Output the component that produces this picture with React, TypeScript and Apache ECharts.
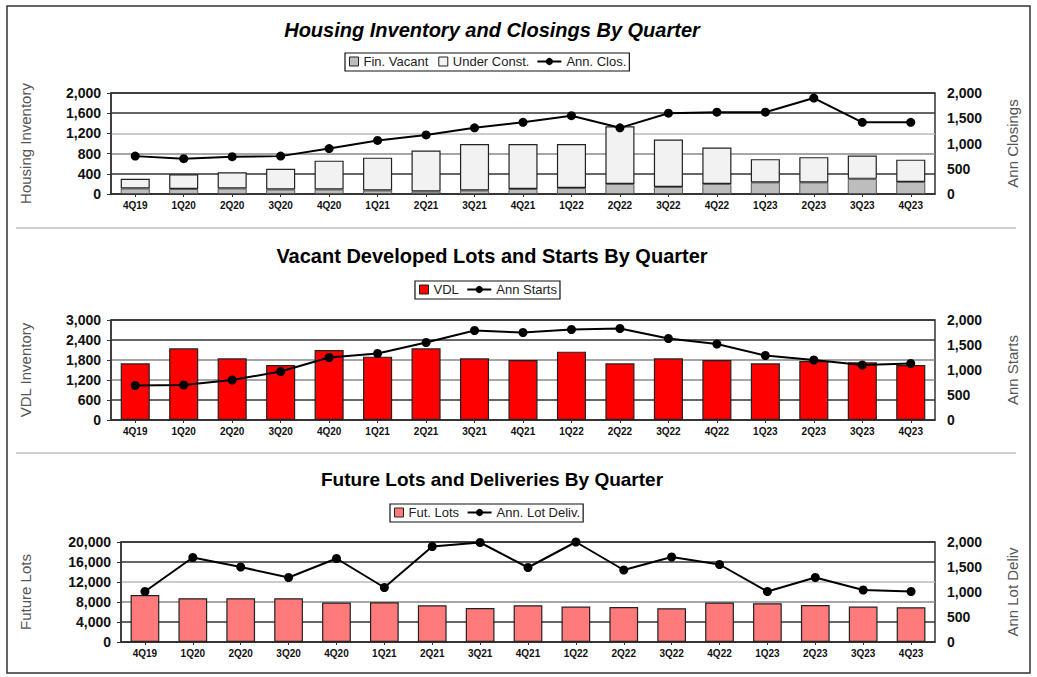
import React, { useEffect, useRef } from "react";
import * as echarts from "echarts";

const quarters = ["4Q19", "1Q20", "2Q20", "3Q20", "4Q20", "1Q21", "2Q21", "3Q21", "4Q21", "1Q22", "2Q22", "3Q22", "4Q22", "1Q23", "2Q23", "3Q23", "4Q23"];

const finVacant = [110, 100, 110, 90, 90, 70, 50, 70, 100, 120, 200, 140, 200, 230, 230, 300, 240];
const underConst = [190, 290, 320, 410, 570, 650, 810, 920, 890, 870, 1140, 940, 720, 460, 500, 460, 440];
const annClosings = [750, 700, 740, 750, 900, 1060, 1170, 1310, 1420, 1550, 1310, 1600, 1620, 1620, 1900, 1420, 1420];

const vdl = [1700, 2150, 1850, 1650, 2100, 1900, 2150, 1850, 1800, 2050, 1700, 1850, 1800, 1700, 1770, 1730, 1650];
const annStarts = [690, 700, 800, 970, 1250, 1330, 1550, 1790, 1750, 1810, 1830, 1630, 1520, 1290, 1200, 1100, 1130];

const futLots = [9400, 8750, 8750, 8750, 7900, 7950, 7350, 6800, 7350, 7100, 7000, 6750, 7900, 7750, 7400, 7100, 6950];
const annLotDeliv = [1010, 1690, 1500, 1290, 1670, 1090, 1910, 1990, 1490, 2000, 1440, 1700, 1550, 1010, 1290, 1040, 1010];

const titles = ["Housing Inventory and Closings By Quarter", "Vacant Developed Lots and Starts By Quarter", "Future Lots and Deliveries By Quarter"];

const FONT = '"Liberation Sans", Arial, sans-serif';
const LEG_FONT_SIZE = 13;

function textWidth(t: string, size: number, weight = "normal") {
  const ctx = document.createElement("canvas").getContext("2d")!;
  ctx.font = `${weight} ${size}px "Liberation Sans", Arial, sans-serif`;
  return ctx.measureText(t).width;
}

export default function App() {
  const ref = useRef<HTMLDivElement>(null);
  useEffect(() => {
    const chart = echarts.init(ref.current!, undefined, { renderer: "svg" });

    const grids = [
      { left: 111, right: 102, top: 93, height: 101 },
      { left: 111, right: 102, top: 320, height: 100 },
      { left: 121, right: 102, top: 542, height: 100 },
    ];

    const fmt = (v: number) => v.toLocaleString("en-US");

    const leftAxes = [
      { max: 2000, interval: 400, name: "Housing Inventory", colors: ["#333", "#333", "#888", "#bbb", "#333", "#333"] },
      { max: 3000, interval: 600, name: "VDL Inventory", colors: ["#333", "#333", "#888", "#888", "#333", "#333"] },
      { max: 20000, interval: 4000, name: "Future Lots", colors: ["#333", "#333", "#888", "#bbb", "#333", "#333"] },
    ];
    const rightNames = ["Ann Closings", "Ann Starts", "Ann Lot Deliv"];

    const yAxis: any[] = [];
    leftAxes.forEach((a, i) => {
      yAxis.push({
        type: "value",
        gridIndex: i,
        min: 0,
        max: a.max,
        interval: a.interval,
        position: "left",
        name: a.name,
        nameLocation: "middle",
        nameRotate: 90,
        nameGap: i === 2 ? 88 : 78,
        nameTextStyle: { fontFamily: FONT, fontSize: 15, color: "#555" },
        axisLine: { show: true, lineStyle: { color: "#333", width: 1.5 } },
        axisTick: { show: true, length: 4, lineStyle: { color: "#333" } },
        axisLabel: { formatter: fmt, fontFamily: FONT, fontWeight: "bold", fontSize: 14, color: "#111", margin: 10 },
        splitLine: { show: true, lineStyle: { color: a.colors, width: 1.5 } },
      });
      yAxis.push({
        type: "value",
        gridIndex: i,
        min: 0,
        max: 2000,
        interval: 500,
        position: "right",
        name: rightNames[i],
        nameLocation: "middle",
        nameRotate: 90,
        nameGap: 70,
        nameTextStyle: { fontFamily: FONT, fontSize: 15, color: "#555" },
        axisLine: { show: false },
        axisTick: { show: false },
        axisLabel: { formatter: fmt, fontFamily: FONT, fontWeight: "bold", fontSize: 14, color: "#111", margin: 12 },
        splitLine: { show: false },
      });
    });

    const xAxis = [0, 1, 2].map((i) => ({
      type: "category",
      gridIndex: i,
      data: quarters,
      axisLine: { show: true, lineStyle: { color: "#333", width: 1.5 } },
      axisTick: { show: true, alignWithLabel: true, length: 3, lineStyle: { color: "#333" } },
      axisLabel: { fontFamily: FONT, fontWeight: "bold", fontSize: 10, color: "#111", margin: 6, interval: 0 },
    }));

    const lineSeries = (name: string, data: number[], gi: number) => ({
      name,
      type: "line",
      xAxisIndex: gi,
      yAxisIndex: gi * 2 + 1,
      data,
      symbol: "circle",
      symbolSize: 9,
      itemStyle: { color: "#000" },
      lineStyle: { color: "#000", width: 2 },
      z: 5,
    });
    const barBase = { type: "bar", barCategoryGap: "40%" };

    const series: any[] = [
      { ...barBase, name: "Fin. Vacant", xAxisIndex: 0, yAxisIndex: 0, stack: "inv", data: finVacant, itemStyle: { color: "#bdbdbd", borderColor: "#555", borderWidth: 1 } },
      { ...barBase, name: "Under Const.", xAxisIndex: 0, yAxisIndex: 0, stack: "inv", data: underConst, itemStyle: { color: "#f2f2f2", borderColor: "#222", borderWidth: 1.2 } },
      lineSeries("Ann. Clos.", annClosings, 0),
      { ...barBase, name: "VDL", xAxisIndex: 1, yAxisIndex: 2, data: vdl, itemStyle: { color: "#ff0000", borderColor: "#222", borderWidth: 1.2 } },
      lineSeries("Ann Starts", annStarts, 1),
      { ...barBase, name: "Fut. Lots", xAxisIndex: 2, yAxisIndex: 4, data: futLots, itemStyle: { color: "#ff7b7b", borderColor: "#222", borderWidth: 1.2 } },
      lineSeries("Ann. Lot Deliv.", annLotDeliv, 2),
    ];

    const legendDefs = [
      { bars: ["Fin. Vacant", "Under Const."], line: "Ann. Clos.", cy: 62 },
      { bars: ["VDL"], line: "Ann Starts", cy: 290 },
      { bars: ["Fut. Lots"], line: "Ann. Lot Deliv.", cy: 513 },
    ];
    const centerX = 487;
    const legend: any[] = [];
    const graphic: any[] = [
      { type: "rect", shape: { x: 7, y: 6, width: 1023, height: 667 }, style: { fill: "none", stroke: "#333", lineWidth: 1.5 }, silent: true },
      { type: "line", shape: { x1: 16, y1: 228, x2: 1016, y2: 228 }, style: { stroke: "#d0d0d0", lineWidth: 2 }, silent: true },
      { type: "line", shape: { x1: 16, y1: 453, x2: 1016, y2: 453 }, style: { stroke: "#d0d0d0", lineWidth: 2 }, silent: true },
    ];
    const barIconW = 9;
    const lineIconW = 24;
    const itemGap = 10;
    legendDefs.forEach((d) => {
      const wA = d.bars.reduce((s, b) => s + barIconW + 5 + textWidth(b, LEG_FONT_SIZE), 0) + itemGap * (d.bars.length - 1);
      const wB = lineIconW + 5 + textWidth(d.line, LEG_FONT_SIZE);
      const gap = 8;
      const pad = 4;
      const boxW = wA + gap + wB + pad * 2;
      const x0 = Math.round(centerX - boxW / 2);
      graphic.push({ type: "rect", shape: { x: x0, y: d.cy - 9, width: boxW, height: 18 }, style: { fill: "#fff", stroke: "#111", lineWidth: 1.2 }, silent: true, z: -1 });
      const common = {
        orient: "horizontal",
        padding: 0,
        itemGap,
        selectedMode: false,
        textStyle: { fontFamily: FONT, fontSize: LEG_FONT_SIZE, color: "#222" },
        top: d.cy - 7,
      };
      legend.push({ ...common, left: x0 + pad, data: d.bars.map((b) => ({ name: b, icon: "rect" })), itemWidth: barIconW, itemHeight: 9, itemStyle: { borderColor: "#222", borderWidth: 1 } });
      legend.push({ ...common, left: x0 + pad + wA + gap, data: [d.line], itemWidth: lineIconW, itemHeight: 9 });
    });

    const title = [
      { text: titles[0], left: centerX, top: 15, textAlign: "center", textStyle: { fontFamily: FONT, fontWeight: "bold", fontStyle: "italic", fontSize: 20, color: "#000" } },
      { text: titles[1], left: centerX, top: 241, textAlign: "center", textStyle: { fontFamily: FONT, fontWeight: "bold", fontSize: 20, color: "#000" } },
      { text: titles[2], left: centerX, top: 465, textAlign: "center", textStyle: { fontFamily: FONT, fontWeight: "bold", fontSize: 19, color: "#000" } },
    ];

    chart.setOption({
      animation: false,
      backgroundColor: "#fff",
      title,
      legend,
      grid: grids.map((g) => ({ ...g, show: true, borderColor: "#333", borderWidth: 1.5, backgroundColor: "transparent", containLabel: false })),
      xAxis,
      yAxis,
      series,
      graphic,
    });
    return () => chart.dispose();
  }, []);
  return <div ref={ref} style={{ position: "absolute", left: 0, top: 0, width: 1037, height: 677 }} />;
}
